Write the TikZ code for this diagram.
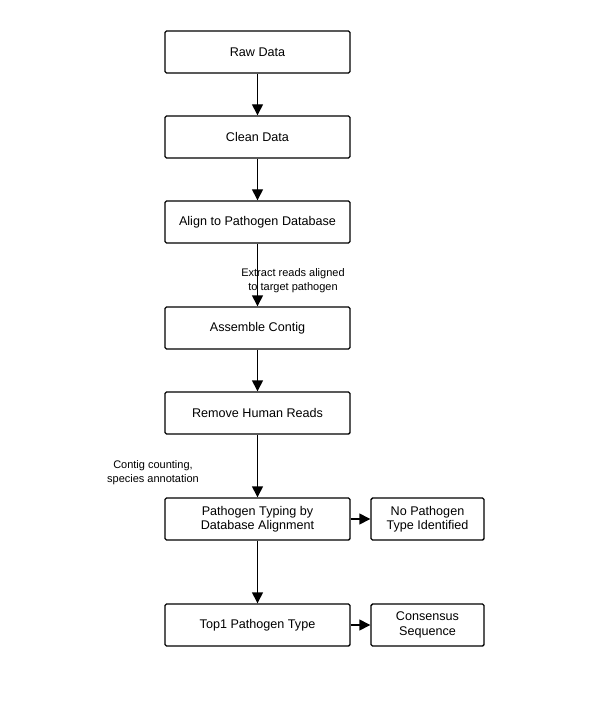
\documentclass[tikz,border=0pt]{standalone}
\usepackage{fontspec}
\setmainfont{Liberation Sans}
\usetikzlibrary{arrows.meta}
\begin{document}
\begin{tikzpicture}[x=1pt,y=-1pt,
  box/.style={draw=black,line width=1.4pt,rounded corners=1.5pt,minimum width=185pt,minimum height=42pt,inner sep=0pt,align=center,font=\fontsize{12.6}{14.5}\selectfont},
  sbox/.style={box,minimum width=113pt},
  lbl/.style={align=center,font=\fontsize{11}{14}\selectfont,inner sep=0pt},
  arr/.style={line width=1.4pt,-{Triangle[length=11pt,width=11pt]}}]
\useasboundingbox (0,0) rectangle (600,703);
\node[box] (raw) at (257.5,52) {Raw Data};
\node[box] (clean) at (257.5,137) {Clean Data};
\node[box] (align) at (257.5,222) {Align to Pathogen Database};
\node[box] (asm) at (257.5,328) {Assemble Contig};
\node[box] (rem) at (257.5,413) {Remove Human Reads};
\node[box] (typ) at (257.5,519) {Pathogen Typing by\\Database Alignment};
\node[box] (top) at (257.5,625) {Top1 Pathogen Type};
\node[sbox] (none) at (427.5,519) {No Pathogen\\Type Identified};
\node[sbox] (cons) at (427.5,625) {Consensus\\Sequence};
\node[lbl] (l1) at (293,281) {Extract reads aligned\\to target pathogen};
\node[lbl] (l2) at (153,472.5) {Contig counting,\\species annotation};
\draw[arr] (raw) -- (clean);
\draw[arr] (clean) -- (align);
\draw[arr] (align) -- (asm);
\draw[arr] (asm) -- (rem);
\draw[arr] (rem) -- (typ);
\draw[arr] (typ) -- (top);
\draw[arr] (typ) -- (none);
\draw[arr] (top) -- (cons);
\end{tikzpicture}
\end{document}
